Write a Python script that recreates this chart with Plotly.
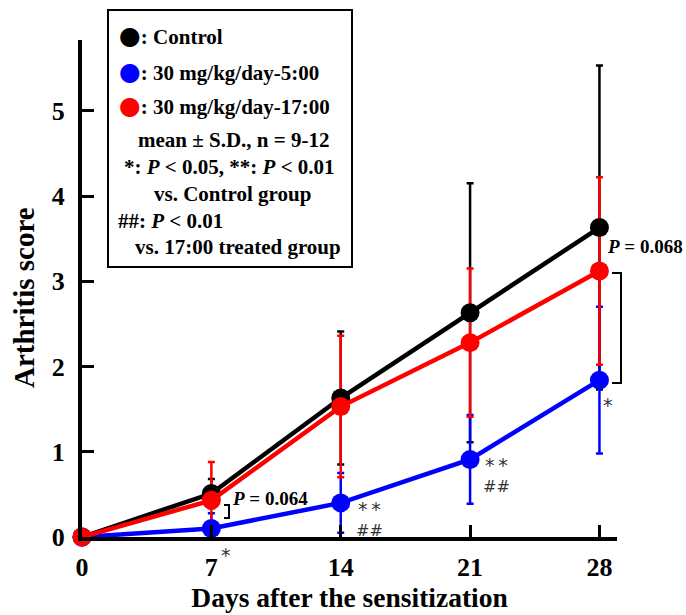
import numpy as np
import plotly.graph_objects as go

# ---------------- data ----------------
days = [0, 7, 14, 21, 28]
control_mean = [0.0, 0.51, 1.63, 2.63, 3.63]
control_sd = [0.0, 0.17, 0.78, 1.52, 1.90]
am5_mean = [0.0, 0.10, 0.40, 0.91, 1.84]
am5_sd = [0.0, 0.18, 0.35, 0.52, 0.86]
pm17_mean = [0.0, 0.43, 1.53, 2.28, 3.12]
pm17_sd = [0.0, 0.45, 0.83, 0.87, 1.10]
x_ticks = [0, 7, 14, 21, 28]
y_ticks = [0, 1, 2, 3, 4, 5]

BLACK, BLUE, RED = "#000000", "#0000ff", "#ff0000"
FONT = "Liberation Serif"
SYMFONT = "DejaVu Sans"
GRAY = "#333333"

W, H = 686, 615
ML, MR, MT, MB = 82, 69, 40, 78
XMAX, YMAX = 28.95, 5.83

series = [
    ("Control", control_mean, control_sd, BLACK),
    ("30 mg/kg/day-5:00", am5_mean, am5_sd, BLUE),
    ("30 mg/kg/day-17:00", pm17_mean, pm17_sd, RED),
]

fig = go.Figure()

# error bars first (clipped below zero)
for name, m, sd, c in series:
    m = np.array(m); sd = np.array(sd)
    fig.add_trace(go.Scatter(
        x=days, y=m, mode="markers",
        marker=dict(size=1, opacity=0, color=c),
        error_y=dict(type="data", array=sd, arrayminus=np.minimum(sd, m),
                     color=c, thickness=2.5, width=3.5),
        showlegend=False, hoverinfo="skip", cliponaxis=True,
    ))

# lines and markers on top
for name, m, sd, c in series:
    fig.add_trace(go.Scatter(
        x=days, y=m, mode="lines+markers", name=name,
        line=dict(color=c, width=4.5),
        marker=dict(size=19, color=c),
        showlegend=False, cliponaxis=False,
    ))

def px_x(p):
    return (p - ML) / (W - ML - MR)

def px_y(p):
    return (H - MB - p) / (H - MT - MB)

annotations = []
shapes = []

# legend box
shapes.append(dict(type="rect", xref="paper", yref="paper",
                   x0=px_x(108), x1=px_x(352), y0=px_y(267), y1=px_y(10),
                   line=dict(color="black", width=2), fillcolor="white", layer="above"))

def ann_px(text, x, y, size=21, xanchor="left", color="black", bold=True, family=FONT, angle=0):
    t = f"<b>{text}</b>" if bold else text
    annotations.append(dict(text=t, x=px_x(x), y=px_y(y), xref="paper", yref="paper",
                            xanchor=xanchor, yanchor="middle", showarrow=False, textangle=angle,
                            font=dict(family=family, size=size, color=color)))

def bullet(c, label):
    return f"<span style='color:{c};font-size:25px;font-family:DejaVu Sans'>●</span>: {label}"

ann_px(bullet(BLACK, "Control"), 117, 36)
ann_px(bullet(BLUE, "30 mg/kg/day-5:00"), 117, 72)
ann_px(bullet(RED, "30 mg/kg/day-17:00"), 117, 106)
ann_px("mean ± S.D., n = 9-12", 234, 140, xanchor="center")
ann_px("*: <i>P</i> &lt; 0.05, **: <i>P</i> &lt; 0.01", 229, 167, xanchor="center")
ann_px("vs. Control group", 232, 194, xanchor="center")
ann_px("##: <i>P</i> &lt; 0.01", 116, 221)
ann_px("vs. 17:00 treated group", 133, 247)

# y axis title (placed as rotated text)
ann_px("Arthritis score", 24, 298, size=29, xanchor="center", angle=-90)

# significance annotations
def sym(text, x, y, size):
    ann_px(text, x, y, size=size, xanchor="center", color=GRAY, bold=False, family=SYMFONT)

ann_px("<i>P</i> = 0.064", 230, 498, size=19)
ann_px("<i>P</i> = 0.068", 605, 246, size=19)
sym("*", 226, 555, 19)
sym("*\u2009*", 369, 509, 19)
sym("##", 369, 530, 16)
sym("*\u2009*", 496, 465, 19)
sym("##", 496, 486, 16)
sym("*", 608, 405, 19)

# brackets
def bracket(xl, xr, yt, yb):
    shapes.append(dict(type="path", xref="paper", yref="paper",
                       path=f"M {px_x(xl)} {px_y(yt)} L {px_x(xr)} {px_y(yt)} L {px_x(xr)} {px_y(yb)} L {px_x(xl)} {px_y(yb)}",
                       line=dict(color="black", width=2)))

bracket(224, 229, 505, 518)
bracket(612, 621, 273, 383)

fig.update_layout(
    width=W, height=H, autosize=False,
    margin=dict(l=ML, r=MR, t=MT, b=MB, pad=0, autoexpand=False),
    plot_bgcolor="white", paper_bgcolor="white",
    font=dict(family=FONT, color="black"),
    xaxis=dict(range=[0, XMAX], tickvals=x_ticks, ticktext=[f"<b>{v}</b>" for v in x_ticks],
               showgrid=False, zeroline=False, showline=True, linecolor="black", linewidth=4,
               ticks="inside", ticklen=12, tickwidth=3, tickcolor="black",
               ticklabelstandoff=4, automargin=False,
               tickfont=dict(family=FONT, size=26, color="black"),
               title=dict(text="<b>Days after the sensitization</b>",
                          font=dict(family=FONT, size=27.5, color="black"), standoff=8)),
    yaxis=dict(range=[0, YMAX], tickvals=y_ticks, ticktext=[f"<b>{v}</b>" for v in y_ticks],
               showgrid=False, zeroline=False, showline=True, linecolor="black", linewidth=4,
               ticks="inside", ticklen=12, tickwidth=3, tickcolor="black",
               ticklabelstandoff=8, automargin=False,
               tickfont=dict(family=FONT, size=26, color="black")),
    annotations=annotations, shapes=shapes,
    showlegend=False,
)

fig.write_html("out.html")
